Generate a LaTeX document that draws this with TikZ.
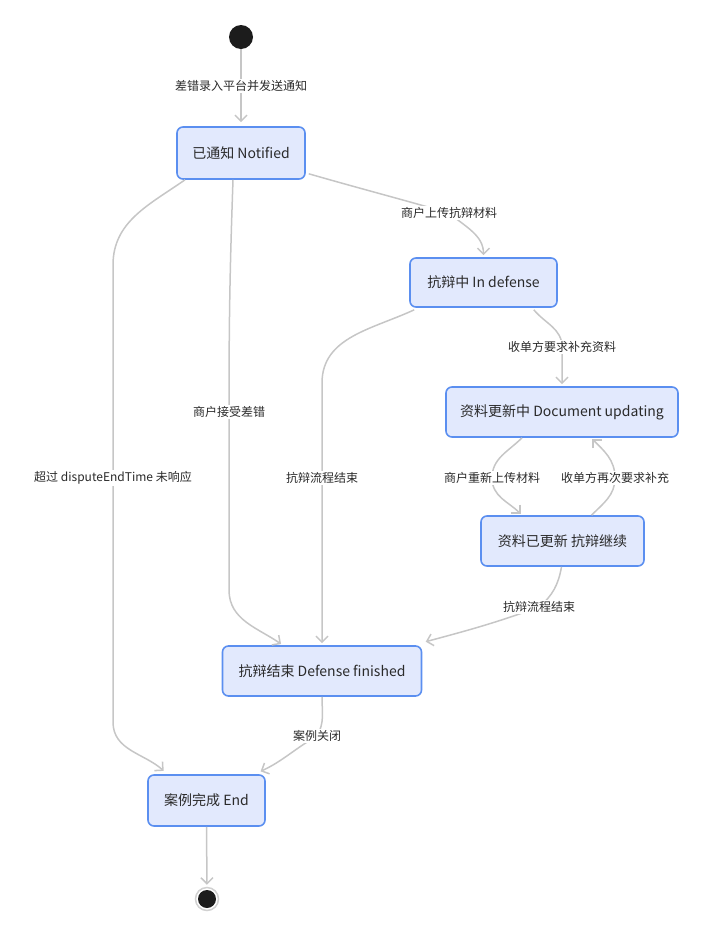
\documentclass[tikz,border=0pt]{standalone}
\usepackage{fontspec}
\setmainfont{Noto Sans CJK SC}
\usetikzlibrary{arrows.meta}
\definecolor{nodefill}{HTML}{E2E9FD}
\definecolor{nodedraw}{HTML}{5B8FF0}
\definecolor{edgec}{HTML}{C6C6C6}
\definecolor{txt}{HTML}{2A2A2A}
\definecolor{dotc}{HTML}{1C1C1C}
\begin{document}
\begin{tikzpicture}[x=1pt,y=1pt,
  state/.style={draw=nodedraw, fill=nodefill, line width=1.6pt, rounded corners=6pt,
    text=txt, font=\fontsize{14}{16}\selectfont, inner sep=0pt},
  edge/.style={draw=edgec, line width=1.5pt, shorten >=2pt,
    -{Straight Barb[length=6pt,width=12pt]}},
  lbl/.style={fill=white, text=txt, font=\fontsize{12}{14}\selectfont, inner sep=1.5pt},
  startdot/.style={circle, fill=dotc, minimum size=24pt, inner sep=0pt},
  enddot/.style={circle, draw=edgec!80, line width=1.5pt, fill=white, minimum size=23pt, inner sep=0pt}
]
\useasboundingbox (0,0) rectangle (705,-935);

% states
\node[startdot] (s) at (241,-37) {};
\node[state, minimum width=128pt, minimum height=52pt] (n1) at (241,-153) {已通知 Notified};
\node[state, minimum width=147pt, minimum height=49pt] (n2) at (483.5,-282.5) {抗辩中 In defense};
\node[state, minimum width=232pt, minimum height=50pt] (n3) at (562,-412) {资料更新中 Document updating};
\node[state, minimum width=163pt, minimum height=50pt] (n4) at (562.5,-541) {资料已更新 抗辩继续};
\node[state, minimum width=199pt, minimum height=50pt] (n5) at (322,-671) {抗辩结束 Defense finished};
\node[state, minimum width=117pt, minimum height=51pt] (n6) at (206.5,-800.5) {案例完成 End};
\node[enddot] (e) at (207,-899) {};
\fill[dotc] (e.center) circle (9pt);

% label positions
\coordinate (l1) at (241,-86);
\coordinate (l2) at (449,-213);
\coordinate (l3) at (229,-412);
\coordinate (l4) at (113,-478);
\coordinate (l5) at (322,-478);
\coordinate (l6) at (562,-347);
\coordinate (l7) at (492,-478);
\coordinate (l8) at (615,-478);
\coordinate (l9) at (539,-607);
\coordinate (l10) at (317,-736);

% edges
\draw[edge, shorten >=4pt] (s.south) -- (n1.north);
\draw[edge] ([xshift=3pt,yshift=6pt]n1.south east) to[out=-16,in=164] (l2)
  to[out=-40,in=90] (n2.north);
\draw[edge] ([xshift=-8pt]n1.south) to[out=-92,in=90] (l3) -- ([yshift=-178pt]l3)
  to[out=-90,in=145] ([xshift=61pt]n5.north west);
\draw[edge] ([xshift=-56pt]n1.south) to[out=-145,in=90] (113,-265) -- (113,-722)
  to[out=-90,in=138] ([xshift=18pt,yshift=2pt]n6.north west);
\draw[edge] ([xshift=5pt,yshift=-2pt]n2.south west) to[out=-155,in=90] ([yshift=95pt]l5)
  -- (n5.north);
\draw[edge] ([xshift=-24pt,yshift=-2pt]n2.south east) to[out=-50,in=90] (l6) -- (n3.north);
\draw[edge] ([xshift=-40pt]n3.south) to[out=-135,in=90] (l7) to[out=-90,in=135]
  ([xshift=-40.5pt]n4.north);
\draw[edge] ([xshift=29pt]n4.north) to[out=45,in=-90] (l8) to[out=90,in=-45]
  ([xshift=29pt]n3.south);
\draw[edge] ([xshift=-1pt]n4.south) to[out=-100,in=40] (l9) to[out=-160,in=15]
  ([xshift=1.5pt,yshift=3pt]n5.north east);
\draw[edge] (n5.south) to[out=-90,in=60] (l10) to[out=-150,in=25]
  ([xshift=-7pt,yshift=2pt]n6.north east);
\draw[edge] (n6.south) -- (e.north);

% labels
\node[lbl] at (l1) {差错录入平台并发送通知};
\node[lbl] at (l2) {商户上传抗辩材料};
\node[lbl] at (l3) {商户接受差错};
\node[lbl] at (l4) {超过 disputeEndTime 未响应};
\node[lbl] at (l5) {抗辩流程结束};
\node[lbl] at (l6) {收单方要求补充资料};
\node[lbl] at (l7) {商户重新上传材料};
\node[lbl] at (l8) {收单方再次要求补充};
\node[lbl] at (l9) {抗辩流程结束};
\node[lbl] at (l10) {案例关闭};
\end{tikzpicture}
\end{document}
